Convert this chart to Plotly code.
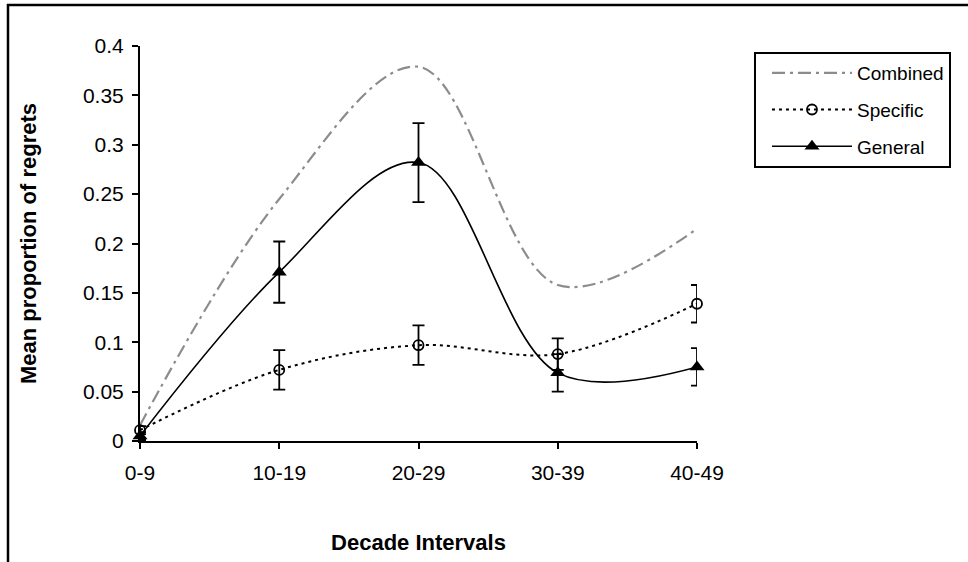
import plotly.graph_objects as go

decades = ["0-9", "10-19", "20-29", "30-39", "40-49"]
combined = [0.016, 0.245, 0.379, 0.158, 0.215]
specific = [0.011, 0.072, 0.097, 0.088, 0.139]
specific_err = [0.004, 0.020, 0.020, 0.016, 0.019]
general = [0.005, 0.171, 0.282, 0.069, 0.075]
general_err = [0.004, 0.031, 0.040, 0.019, 0.019]
y_ticks = [0, 0.05, 0.1, 0.15, 0.2, 0.25, 0.3, 0.35, 0.4]
y_ticktext = ["0", "0.05", "0.1", "0.15", "0.2", "0.25", "0.3", "0.35", "0.4"]

FONT = "Liberation Sans, Arial, sans-serif"
xpos = list(range(len(decades)))

fig = go.Figure()
fig.add_trace(go.Scatter(
    x=xpos, y=combined, name="Combined", mode="lines", legendgroup="c",
    line=dict(color="#8c8c8c", width=2.2, dash="13px,5px,3px,5px", shape="spline", smoothing=1),
    cliponaxis=False))
fig.add_trace(go.Scatter(
    x=xpos, y=specific, name="Specific", mode="lines+markers", legendgroup="s",
    line=dict(color="black", width=2, dash="3px,4px", shape="spline", smoothing=1),
    marker=dict(symbol="circle-open", size=10, color="black", line=dict(width=1.8, color="black")),
    error_y=dict(type="data", array=specific_err, color="black", thickness=1.8, width=6),
    cliponaxis=False))
fig.add_trace(go.Scatter(
    x=xpos, y=general, name="General", mode="lines+markers", legendgroup="g",
    line=dict(color="black", width=1.6, shape="spline", smoothing=1),
    marker=dict(symbol="triangle-up", size=13, color="black"),
    error_y=dict(type="data", array=general_err, color="black", thickness=1.8, width=6),
    cliponaxis=False))

fig.update_layout(
    width=968, height=562,
    margin=dict(l=140, r=271, t=46, b=121),
    paper_bgcolor="white", plot_bgcolor="white",
    font=dict(family=FONT, color="black"),
    showlegend=True,
    legend=dict(x=1.1023, y=0.985, xanchor="left", yanchor="top",
                bgcolor="white", bordercolor="black", borderwidth=2,
                font=dict(size=19, family=FONT), tracegroupgap=9,
                itemwidth=80, indentation=11),
    xaxis=dict(range=[0, 4], tickvals=xpos, ticktext=decades, showline=True,
               linecolor="black", linewidth=2, ticks="outside", ticklen=6, tickwidth=2,
               tickcolor="black", showgrid=False, zeroline=False, ticklabelstandoff=6,
               tickfont=dict(size=21, family=FONT),
               title=dict(text="Decade Intervals", font=dict(size=22, family=FONT, weight="bold"), standoff=51)),
    yaxis=dict(range=[0, 0.4], tickvals=y_ticks, ticktext=y_ticktext, showline=True,
               linecolor="black", linewidth=2, ticks="outside", ticklen=6, tickwidth=2,
               tickcolor="black", showgrid=False, zeroline=False, ticklabelstandoff=4,
               tickfont=dict(size=21, family=FONT),
               title=dict(text="Mean proportion of regrets", font=dict(size=22, family=FONT, weight="bold"), standoff=40)),
    xaxis2=dict(overlaying="x", anchor="y", range=[0, 4], tickvals=xpos, showticklabels=False,
                ticks="inside", ticklen=6, tickwidth=2, tickcolor="black", showgrid=False,
                zeroline=False, showline=False, side="bottom"),
    yaxis2=dict(overlaying="y", anchor="x", range=[0, 0.4], tickvals=y_ticks, showticklabels=False,
                ticks="inside", ticklen=6, tickwidth=2, tickcolor="black", showgrid=False,
                zeroline=False, showline=False, side="left"),
    shapes=[dict(type="rect", xref="paper", yref="paper", x0=-0.237, x1=2.0, y0=-1.0, y1=1.1038,
                 line=dict(color="black", width=2.5), fillcolor="rgba(0,0,0,0)", layer="below")],
)

fig.write_html("out.html")
